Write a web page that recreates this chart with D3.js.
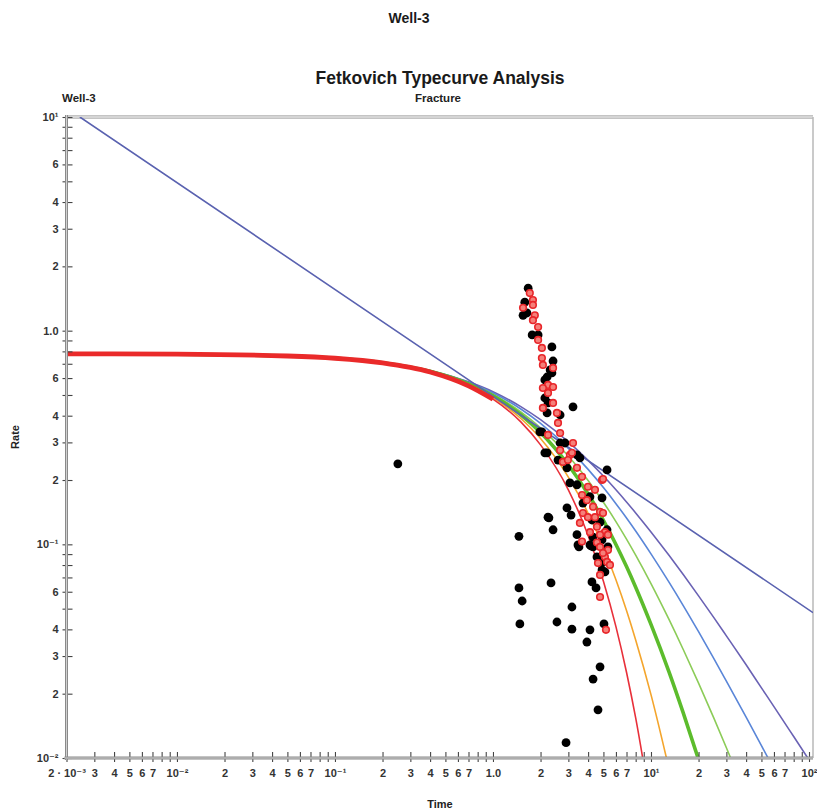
<!DOCTYPE html>
<html>
<head>
<meta charset="utf-8">
<script src="https://cdn.jsdelivr.net/npm/d3@7"></script>
<style>
  html, body { margin: 0; padding: 0; background: #fff; }
  text { font-family: "Liberation Sans", Arial, "DejaVu Sans", sans-serif; font-weight: bold; }
</style>
</head>
<body>
<svg id="chart" width="817" height="812"></svg>
<script>
// ---------------- DATA ----------------
const chartTitle = "Well-3";
const plotTitle = "Fetkovich Typecurve Analysis";
const plotSubtitle = "Fracture";
const wellLabel = "Well-3";
const xLabel = "Time";
const yLabel = "Rate";

// time grid shared by the decline stems
const stemTimes = [0.002, 0.01, 0.05, 0.1, 0.2, 0.4, 0.7, 1, 1.5, 2, 3, 4, 5, 6, 7, 8, 10, 13, 16, 20, 25, 30, 40, 50, 60, 80, 100];
const stemRed    = [0.779, 0.776, 0.761, 0.743, 0.707, 0.641, 0.552, 0.478, 0.374, 0.292, 0.180, 0.110, 0.0672, 0.0412, 0.0252, 0.0154, 0.0058, null, null, null, null, null, null, null, null, null, null];
const stemOrange = [0.779, 0.776, 0.761, 0.743, 0.708, 0.643, 0.558, 0.486, 0.388, 0.313, 0.2065, 0.1398, 0.0967, 0.0682, 0.0490, 0.0357, 0.0198, 0.0089, null, null, null, null, null, null, null, null, null];
const stemGreen  = [0.779, 0.776, 0.761, 0.743, 0.708, 0.645, 0.563, 0.495, 0.404, 0.334, 0.235, 0.172, 0.1295, 0.0999, 0.0787, 0.0630, 0.0422, 0.0253, 0.01626, 0.00984, null, null, null, null, null, null, null];
const stemLightGreen = [0.779, 0.776, 0.761, 0.743, 0.709, 0.647, 0.568, 0.503, 0.417, 0.351, 0.259, 0.199, 0.1575, 0.1278, 0.1058, 0.0890, 0.0655, 0.0445, 0.0322, 0.0224, 0.01536, 0.01117, 0.00668, null, null, null, null];
const stemBlue   = [0.779, 0.776, 0.761, 0.743, 0.709, 0.649, 0.572, 0.511, 0.430, 0.368, 0.2814, 0.2243, 0.1844, 0.155, 0.1328, 0.1154, 0.0902, 0.0665, 0.0517, 0.0390, 0.0292, 0.0229, 0.01554, 0.01143, 0.00887, null, null];
const stemPurple = [0.779, 0.776, 0.761, 0.743, 0.710, 0.651, 0.576, 0.518, 0.441, 0.383, 0.3015, 0.2472, 0.2087, 0.180, 0.1579, 0.1403, 0.1143, 0.0888, 0.0722, 0.0574, 0.0454, 0.0373, 0.0273, 0.0213, 0.0174, 0.0126, 0.0098];

// transient (half-slope) line
const transientT = [0.00243, 1, 106];
const transientQ = [10, 0.493, 0.0479];

// measured data (black) [time, rate]
const blackPoints = [
  [0.25, 0.238], [1.46, 0.109], [1.46, 0.0625], [1.53, 0.0543], [1.48, 0.0424],
  [2.26, 0.133], [2.40, 0.117], [2.33, 0.066], [2.54, 0.0433], [3.16, 0.0509],
  [3.16, 0.0401], [4.11, 0.0398], [3.93, 0.0349], [4.76, 0.0267], [4.30, 0.0234],
  [4.62, 0.0168], [2.90, 0.0118], [5.04, 0.0424], [5.27, 0.223], [4.23, 0.0667],
  [4.49, 0.0625], [2.94, 0.148], [3.12, 0.137], [3.40, 0.111], [3.50, 0.0972],
  [4.17, 0.0983], [2.13, 0.268],
  [1.67, 1.58], [1.59, 1.36], [1.64, 1.21], [1.55, 1.18], [1.77, 0.955],
  [1.93, 0.955], [2.36, 0.839], [2.40, 0.721], [2.30, 0.655], [2.20, 0.607],
  [2.36, 0.634], [2.13, 0.588], [2.13, 0.484], [2.23, 0.459], [2.66, 0.403],
  [2.20, 0.412], [2.04, 0.336], [2.20, 0.268], [2.66, 0.298], [2.58, 0.248],
  [2.86, 0.298], [3.55, 0.254], [3.21, 0.440],
  [1.98, 0.336], [2.94, 0.228], [3.40, 0.262], [3.07, 0.194], [3.40, 0.190],
  [4.90, 0.165], [4.11, 0.167], [3.71, 0.156], [4.23, 0.130], [4.76, 0.127],
  [5.27, 0.117], [4.30, 0.108], [4.90, 0.105], [5.34, 0.0972], [4.55, 0.0873],
  [4.97, 0.0827], [4.90, 0.0759], [2.23, 0.134], [3.45, 0.0994], [4.11, 0.0994],
  [5.11, 0.0743], [4.30, 0.0972]
];

// computed/normalised data (red) [time, rate]
const redPoints = [
  [1.71, 1.50], [1.79, 1.39], [1.55, 1.28], [1.79, 1.32], [1.84, 1.18],
  [1.79, 1.12], [1.93, 1.04], [1.93, 0.905], [2.04, 0.830], [2.04, 0.745],
  [2.07, 0.691], [2.40, 0.669], [2.23, 0.557], [2.40, 0.545], [2.07, 0.539],
  [2.23, 0.511], [2.40, 0.459], [2.07, 0.435], [2.54, 0.412], [2.58, 0.370],
  [2.66, 0.332], [2.23, 0.325], [3.21, 0.298], [2.66, 0.276], [3.07, 0.262],
  [2.77, 0.243],
  [3.16, 0.268], [2.98, 0.248], [3.40, 0.228], [3.66, 0.207], [3.99, 0.186],
  [4.42, 0.180], [4.90, 0.200], [3.66, 0.170], [3.93, 0.161], [4.30, 0.150],
  [4.76, 0.142], [4.42, 0.134], [4.97, 0.140], [4.55, 0.121], [5.11, 0.114],
  [5.34, 0.111], [4.76, 0.111], [3.66, 0.103], [4.55, 0.102], [5.34, 0.0941],
  [4.76, 0.0972], [5.11, 0.0873], [4.62, 0.0818], [5.27, 0.0827], [4.76, 0.0719],
  [3.71, 0.140], [3.99, 0.134], [3.55, 0.126], [4.11, 0.114], [4.97, 0.202],
  [5.19, 0.0398], [4.76, 0.0567], [4.97, 0.0911], [5.50, 0.0801]
];

// tick definitions
const yTickValues = [0.01,0.02,0.03,0.04,0.05,0.06,0.07,0.08,0.09,0.1,0.2,0.3,0.4,0.5,0.6,0.7,0.8,0.9,1,2,3,4,5,6,7,8,9,10];
const yTickLabels = ["10⁻²","2","3","4","","6","","","","10⁻¹","2","3","4","","6","","","","1.0","2","3","4","","6","","","","10¹"];
const xTickValues = [0.002,0.003,0.004,0.005,0.006,0.007,0.008,0.009,0.01,0.02,0.03,0.04,0.05,0.06,0.07,0.08,0.09,0.1,0.2,0.3,0.4,0.5,0.6,0.7,0.8,0.9,1,2,3,4,5,6,7,8,9,10,20,30,40,50,60,70,80,90,100];
const xTickLabels = ["2 · 10⁻³","3","4","5","6","7","","","10⁻²","2","3","4","5","6","7","","","10⁻¹","2","3","4","5","6","7","","","1.0","2","3","4","5","6","7","","","10¹","2","3","4","5","6","7","","","10²"];

// ---------------- DRAW ----------------
const svg = d3.select("#chart");
const L = 66.5, R = 813, T = 117, B = 758;
const x = d3.scaleLog().domain([0.002, 106]).range([L, R]);
const y = d3.scaleLog().domain([0.01, 10]).range([B, T]);

svg.append("defs").append("clipPath").attr("id", "clip")
  .append("rect").attr("x", L).attr("y", T).attr("width", R - L).attr("height", B - T);

// titles
svg.append("text").attr("x", 409).attr("y", 23).attr("text-anchor", "middle")
  .attr("font-size", 14).attr("fill", "#1a1a1a").text(chartTitle);
svg.append("text").attr("x", 440).attr("y", 84).attr("text-anchor", "middle")
  .attr("font-size", 17.5).attr("fill", "#1a1a1a").text(plotTitle);
svg.append("text").attr("x", 438).attr("y", 102).attr("text-anchor", "middle")
  .attr("font-size", 11.5).attr("fill", "#222").text(plotSubtitle);
svg.append("text").attr("x", 62).attr("y", 102).attr("text-anchor", "start")
  .attr("font-size", 11.5).attr("fill", "#222").text(wellLabel);
svg.append("text").attr("transform", "translate(19,437) rotate(-90)").attr("text-anchor", "middle")
  .attr("font-size", 11).attr("fill", "#222").text(yLabel);
svg.append("text").attr("x", 440).attr("y", 808).attr("text-anchor", "middle")
  .attr("font-size", 11).attr("fill", "#222").text(xLabel);

// frame: top and right borders
svg.append("line").attr("x1", L).attr("x2", R).attr("y1", T).attr("y2", T)
  .attr("stroke", "#c4c4c4").attr("stroke-width", 4);
svg.append("line").attr("x1", L).attr("x2", R).attr("y1", T).attr("y2", T)
  .attr("stroke", "#e6e6e6").attr("stroke-width", 1);
svg.append("line").attr("x1", R).attr("x2", R).attr("y1", T).attr("y2", B)
  .attr("stroke", "#b8b8b8").attr("stroke-width", 1.5);

const plot = svg.append("g").attr("clip-path", "url(#clip)");

const lineGen = d3.line()
  .defined(d => d[1] != null)
  .x(d => x(d[0])).y(d => y(d[1]))
  .curve(d3.curveMonotoneX);

function stem(values, color, width) {
  const pts = stemTimes.map((t, i) => [t, values[i]]);
  plot.append("path").datum(pts).attr("d", lineGen)
    .attr("fill", "none").attr("stroke", color).attr("stroke-width", width);
}

stem(stemPurple, "#6a62b4", 1.6);
stem(stemBlue, "#5a86d8", 1.6);
stem(stemLightGreen, "#8ccc58", 1.6);
stem(stemGreen, "#5cbc2c", 3.6);
stem(stemOrange, "#f4a52c", 1.6);
stem(stemRed, "#e8303a", 1.6);

// transient straight line
plot.append("path").datum(transientT.map((t, i) => [t, transientQ[i]]))
  .attr("d", d3.line().x(d => x(d[0])).y(d => y(d[1])))
  .attr("fill", "none").attr("stroke", "#5a62b0").attr("stroke-width", 1.6);

// thick red early portion of the b=0 stem
const redEarly = stemTimes.map((t, i) => [t, stemRed[i]]).filter(d => d[0] <= 1);
plot.append("path").datum(redEarly).attr("d", lineGen)
  .attr("fill", "none").attr("stroke", "#ea2a2a").attr("stroke-width", 4.8);

// data points
plot.selectAll("circle.black").data(blackPoints).enter().append("circle")
  .attr("class", "black")
  .attr("cx", d => x(d[0])).attr("cy", d => y(d[1])).attr("r", 4.4)
  .attr("fill", "#000");
plot.selectAll("circle.red").data(redPoints).enter().append("circle")
  .attr("class", "red")
  .attr("cx", d => x(d[0])).attr("cy", d => y(d[1])).attr("r", 3.3)
  .attr("fill", "#f5807a").attr("stroke", "#e8262a").attr("stroke-width", 1.6);

// axes
function styleAxis(g) {
  g.select(".domain").remove();
  g.selectAll(".tick line").attr("stroke", "#444").attr("stroke-width", 1.1);
  g.selectAll(".tick text").attr("fill", "#333").attr("font-size", 11)
    .attr("font-family", '"Liberation Sans", Arial, "DejaVu Sans", sans-serif').attr("font-weight", "bold");
}

const yAxis = d3.axisLeft(y).tickValues(yTickValues)
  .tickFormat((d, i) => yTickLabels[i]).tickSizeInner(4).tickSizeOuter(0).tickPadding(4);
const gy = svg.append("g").attr("transform", `translate(${L},0)`).call(yAxis);
styleAxis(gy);
gy.selectAll(".tick line").attr("x1", 6);

const xAxis = d3.axisBottom(x).tickValues(xTickValues)
  .tickFormat((d, i) => xTickLabels[i]).tickSizeInner(4).tickSizeOuter(0).tickPadding(7);
const gx = svg.append("g").attr("transform", `translate(0,${B})`).call(xAxis);
styleAxis(gx);
gx.selectAll(".tick line").attr("y1", -6);

// axis lines (double gray look)
svg.append("line").attr("x1", L).attr("x2", L).attr("y1", T - 2).attr("y2", B + 2)
  .attr("stroke", "#8a8a8a").attr("stroke-width", 3);
svg.append("line").attr("x1", L).attr("x2", L).attr("y1", T - 2).attr("y2", B + 2)
  .attr("stroke", "#d0d0d0").attr("stroke-width", 1);
svg.append("line").attr("x1", L - 2).attr("x2", R).attr("y1", B).attr("y2", B)
  .attr("stroke", "#8a8a8a").attr("stroke-width", 3);
svg.append("line").attr("x1", L - 2).attr("x2", R).attr("y1", B).attr("y2", B)
  .attr("stroke", "#d0d0d0").attr("stroke-width", 1);
</script>
</body>
</html>
